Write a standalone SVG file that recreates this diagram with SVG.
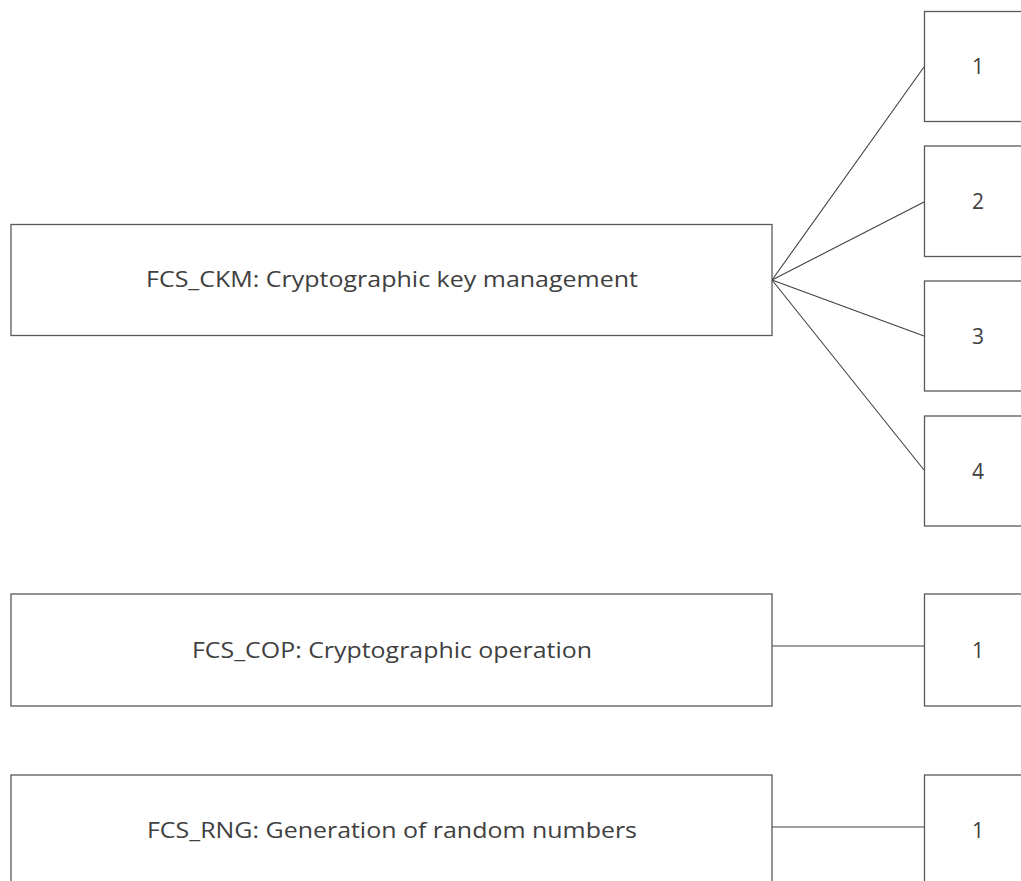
<svg xmlns="http://www.w3.org/2000/svg" width="1021" height="881" viewBox="0 0 1021 881">
<style>
.box{fill:#fff;stroke:#595959;stroke-width:1.3}
.lbl{font-family:"Open Sans","Liberation Sans",sans-serif;font-size:21px;fill:#404040;text-anchor:middle}
.con{stroke:#404040;stroke-width:1.1;fill:none}
</style>
<rect width="1021" height="881" fill="#fff"/>
<g id="connectors">
<line class="con" x1="772" y1="280" x2="924" y2="67"/>
<line class="con" x1="772" y1="280" x2="924" y2="202"/>
<line class="con" x1="772" y1="280" x2="924" y2="336"/>
<line class="con" x1="772" y1="280" x2="924" y2="470"/>
<line class="con" x1="772" y1="646" x2="924" y2="646"/>
<line class="con" x1="772" y1="827" x2="924" y2="827"/>
</g>
<g id="ckm"><rect class="box" x="11" y="224.5" width="761" height="111"/><text class="lbl" x="392" y="287" textLength="492" lengthAdjust="spacingAndGlyphs">FCS_CKM: Cryptographic key management</text></g>
<g id="ckm1"><rect class="box" x="924.5" y="11.5" width="108" height="110"/><text class="lbl" x="978" y="74">1</text></g>
<g id="ckm2"><rect class="box" x="924.5" y="146" width="108" height="110.5"/><text class="lbl" x="978" y="208.5">2</text></g>
<g id="ckm3"><rect class="box" x="924.5" y="281" width="108" height="110"/><text class="lbl" x="978" y="343.5">3</text></g>
<g id="ckm4"><rect class="box" x="924.5" y="416" width="108" height="110"/><text class="lbl" x="978" y="478.5">4</text></g>
<g id="cop"><rect class="box" x="11" y="594" width="761" height="112"/><text class="lbl" x="392" y="658" textLength="400" lengthAdjust="spacingAndGlyphs">FCS_COP: Cryptographic operation</text></g>
<g id="cop1"><rect class="box" x="924.5" y="594" width="108" height="112"/><text class="lbl" x="978" y="658">1</text></g>
<g id="rng"><rect class="box" x="11" y="775" width="761" height="112"/><text class="lbl" x="392" y="838" textLength="490" lengthAdjust="spacingAndGlyphs">FCS_RNG: Generation of random numbers</text></g>
<g id="rng1"><rect class="box" x="924.5" y="775" width="108" height="112"/><text class="lbl" x="978" y="838">1</text></g>
</svg>
